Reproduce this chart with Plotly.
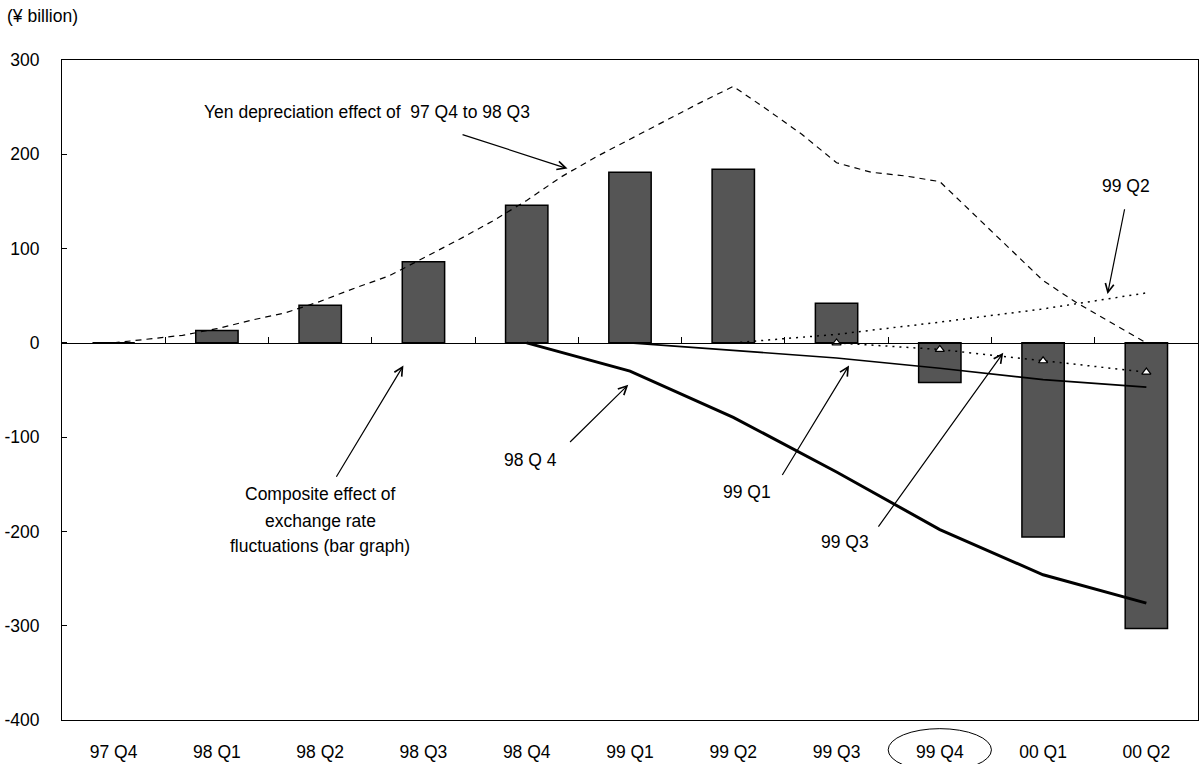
import plotly.graph_objects as go

# Quarter categories on the horizontal axis
quarters = ["97 Q4", "98 Q1", "98 Q2", "98 Q3", "98 Q4", "99 Q1",
            "99 Q2", "99 Q3", "99 Q4", "00 Q1", "00 Q2"]

# Composite effect of exchange rate fluctuations (bars, ¥ billion)
composite = [0, 13, 40, 86, 146, 181, 184, 42, -42, -206, -303]

# Yen depreciation effect of 97 Q4 to 98 Q3, monthly path (97 Q4 .. 00 Q2)
yen_dep_monthly = [0, 4, 8, 15, 24, 32, 44, 58, 71, 90,
                   109, 129, 151, 176, 197, 216, 235, 254, 272,
                   247, 221, 191, 181, 177, 171, 136, 101, 66, 42, 21, 0]

# Appreciation effects by starting quarter (quarterly, from the start quarter on)
eff_98q4 = [0, -30, -79, -137, -198, -246, -276]
eff_99q1 = [0, -8, -16, -27, -39, -47]
eff_99q2 = [0, 9, 22, 36, 53]
eff_99q3 = [0, -7, -19, -31]

y_ticks = [-400, -300, -200, -100, 0, 100, 200, 300]
y_tick_text = ["-400", "-300", "-200", "-100", "0", "100", "200", "300"]

FONT = "Liberation Sans, Arial, sans-serif"
FS = 17.5
n = len(quarters)
qx = list(range(n))
mx = [i / 3 for i in range(len(yen_dep_monthly))]


def tail(series):
    start = n - len(series)
    return qx[start:]


fig = go.Figure()

fig.add_trace(go.Bar(
    x=qx, y=composite, width=0.41,
    marker=dict(color="#555555", line=dict(color="#000000", width=1.5)),
    showlegend=False, hoverinfo="skip"))

fig.add_trace(go.Scatter(
    x=mx, y=yen_dep_monthly, mode="lines",
    line=dict(color="#000000", width=1.2, dash="6px,5px"),
    showlegend=False, hoverinfo="skip"))

fig.add_trace(go.Scatter(
    x=tail(eff_98q4), y=eff_98q4, mode="lines",
    line=dict(color="#000000", width=3),
    showlegend=False, hoverinfo="skip"))

fig.add_trace(go.Scatter(
    x=tail(eff_99q1), y=eff_99q1, mode="lines",
    line=dict(color="#000000", width=1.6),
    showlegend=False, hoverinfo="skip"))

fig.add_trace(go.Scatter(
    x=tail(eff_99q2), y=eff_99q2, mode="lines",
    line=dict(color="#000000", width=1.5, dash="2px,5px"),
    showlegend=False, hoverinfo="skip"))

fig.add_trace(go.Scatter(
    x=tail(eff_99q3), y=eff_99q3, mode="lines+markers", xaxis="x2",
    line=dict(color="#000000", width=1.5, dash="2px,5px"),
    marker=dict(symbol="triangle-up", size=8, color="#ffffff",
                line=dict(color="#000000", width=1.2)),
    showlegend=False, hoverinfo="skip"))

xr = [-0.5, n - 0.5]
y_min, y_max = -400, 300
zero_pos = (0 - y_min) / (y_max - y_min)

fig.update_layout(
    width=1201, height=764, autosize=False,
    margin=dict(l=62, r=2, t=60, b=41),
    paper_bgcolor="#ffffff", plot_bgcolor="#ffffff",
    font=dict(family=FONT, size=FS, color="#000000"),
    bargap=0.59,
    xaxis=dict(
        range=xr, tickmode="array", tickvals=qx, ticktext=quarters,
        ticks="", showgrid=False, zeroline=False,
        showline=True, linecolor="#000000", linewidth=1, mirror=True,
        ticklabelstandoff=16, tickfont=dict(size=FS)),
    xaxis2=dict(
        range=xr, overlaying="x", anchor="free", position=zero_pos,
        side="top", tickmode="array",
        tickvals=[i + 0.5 for i in range(n - 1)],
        ticks="outside", ticklen=6, tickcolor="#000000", tickwidth=1,
        showticklabels=False, showgrid=False, zeroline=False,
        showline=True, linecolor="#000000", linewidth=1.2),
    yaxis=dict(
        range=[y_min, y_max], tickmode="array", tickvals=y_ticks,
        ticktext=y_tick_text, ticks="inside", ticklen=5,
        tickcolor="#000000", showgrid=False, zeroline=False,
        showline=True, linecolor="#000000", linewidth=1, mirror=True,
        ticklabelstandoff=18, tickfont=dict(size=FS)),
)

# Unit label
fig.add_annotation(text="(¥ billion)", xref="paper", yref="paper",
                   x=-0.0501, y=1.0668, xanchor="left", yanchor="middle",
                   showarrow=False, font=dict(size=FS))

# Text labels
labels = [
    ("Yen depreciation effect of \u00a097 Q4 to 98 Q3", 2.452, 245.3),
    ("99 Q2", 9.798, 166.1),
    ("98 Q 4", 4.035, -124.3),
    ("99 Q1", 6.137, -158.4),
    ("99 Q3", 7.082, -211.2),
    ("Composite effect of", 2.0, -160.2),
    ("exchange rate", 2.0, -188.7),
    ("fluctuations (bar graph)", 2.0, -215.7),
]
for txt, x, y in labels:
    fig.add_annotation(text=txt, x=x, y=y, xref="x", yref="y",
                       xanchor="center", yanchor="middle",
                       showarrow=False, font=dict(size=FS))

# Leader arrows: (tail x, tail y, head x, head y)
arrows = [
    (3.364, 221.4, 4.395, 184.8),
    (9.792, 143.3, 9.624, 51.7),
    (4.405, -106.7, 4.983, -44.4),
    (6.466, -141.8, 7.121, -24.0),
    (7.395, -196.4, 8.614, -10.6),
    (2.148, -143.6, 2.806, -24.0),
]
for ax_, ay_, hx, hy in arrows:
    fig.add_annotation(text="", x=hx, y=hy, ax=ax_, ay=ay_,
                       xref="x", yref="y", axref="x", ayref="y",
                       showarrow=True, arrowhead=5, arrowsize=1.4,
                       arrowwidth=1.2, arrowcolor="#000000",
                       standoff=0, startstandoff=0)

# Ellipse around the 99 Q4 category label
fig.add_shape(type="circle", xref="x", yref="paper",
              x0=7.5, x1=8.5, y0=-0.0774, y1=-0.0131,
              line=dict(color="#000000", width=1))

fig.write_html("out.html")
